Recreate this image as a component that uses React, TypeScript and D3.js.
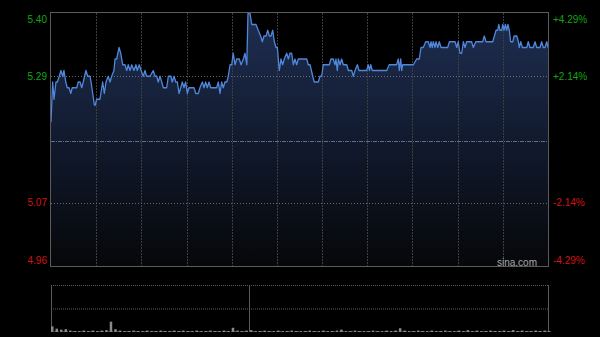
import React from "react";
import * as d3 from "d3";

// Intraday price points: [minute since open, price]
const seg1: [number, number][] = [
  [0, 5.21], [1.1, 5.28], [2.0, 5.25], [3.3, 5.28], [4.2, 5.28], [5.5, 5.29], [6.6, 5.3], [7.8, 5.29], [8.6, 5.3], [9.8, 5.28],
  [10.8, 5.27], [12.0, 5.27], [13.1, 5.26], [14.1, 5.27], [17.1, 5.27], [18.1, 5.28], [19.3, 5.28], [20.4, 5.27], [21.4, 5.28], [23.2, 5.3],
  [24.4, 5.29], [25.9, 5.29], [26.6, 5.28], [27.7, 5.26], [28.8, 5.24], [29.4, 5.24], [30.3, 5.25], [32.5, 5.25], [33.7, 5.27], [34.3, 5.28],
  [35.4, 5.26], [36.5, 5.28], [38.0, 5.29], [39.2, 5.28], [40.3, 5.29], [41.8, 5.3], [42.5, 5.32], [43.6, 5.32], [45.2, 5.34], [46.3, 5.33],
  [47.6, 5.31], [49.1, 5.31], [50.3, 5.3], [51.3, 5.31], [52.5, 5.3], [53.6, 5.31], [55.1, 5.3], [56.4, 5.31], [57.3, 5.3], [58.6, 5.31],
  [59.8, 5.3], [61.3, 5.29], [62.4, 5.3], [63.5, 5.29], [65.7, 5.29],
];
const seg2: [number, number][] = [
  [67.9, 5.3], [69.1, 5.29], [70.2, 5.29], [71.2, 5.28], [72.4, 5.29], [73.5, 5.28], [74.6, 5.27], [76.8, 5.27], [77.9, 5.29], [79.5, 5.29],
  [80.5, 5.28], [81.7, 5.29], [82.8, 5.28], [83.9, 5.28], [85.0, 5.26], [86.1, 5.27], [87.2, 5.28], [88.3, 5.27], [89.4, 5.28], [90.5, 5.26],
  [91.6, 5.27], [95.0, 5.27], [96.1, 5.26], [97.8, 5.26], [98.9, 5.27], [100.5, 5.28], [101.6, 5.27], [102.7, 5.28], [103.8, 5.27], [104.9, 5.28],
  [106.0, 5.27], [110.0, 5.27], [111.1, 5.28], [112.2, 5.26], [113.3, 5.28], [114.4, 5.27], [115.5, 5.28], [116.7, 5.28], [117.7, 5.29], [118.9, 5.31],
  [120.0, 5.31], [121.0, 5.33], [122.2, 5.31], [123.3, 5.32], [125.0, 5.32], [126.2, 5.31], [127.7, 5.32], [128.8, 5.33], [130.0, 5.31],
];
const seg3: [number, number][] = [
  [130.8, 5.4], [132.1, 5.4], [133.3, 5.38], [136.1, 5.38], [137.6, 5.37], [139.2, 5.36], [140.3, 5.35], [141.4, 5.36], [142.8, 5.36], [143.9, 5.37],
  [145.0, 5.36], [146.1, 5.36], [147.2, 5.37], [148.3, 5.35], [149.4, 5.34], [150.3, 5.34], [151.6, 5.3], [152.7, 5.32], [153.8, 5.31], [154.9, 5.32],
  [156.5, 5.33], [157.6, 5.32], [158.7, 5.33], [159.8, 5.33], [160.9, 5.31], [162.0, 5.32], [163.1, 5.31], [164.2, 5.32], [166.9, 5.32], [169.8, 5.32],
  [170.8, 5.31], [172.0, 5.31], [173.8, 5.29], [174.8, 5.28], [177.5, 5.28], [178.6, 5.29], [179.7, 5.29], [180.8, 5.31], [184.8, 5.31], [185.9, 5.32],
  [187.4, 5.32], [188.6, 5.31], [189.2, 5.32], [190.1, 5.3], [190.8, 5.32], [191.9, 5.31], [193.0, 5.32], [194.1, 5.31], [196.4, 5.31], [197.4, 5.3],
];
const seg4: [number, number][] = [
  [199.7, 5.3], [200.7, 5.29], [201.9, 5.3], [203.4, 5.31], [204.5, 5.3], [209.6, 5.3], [210.7, 5.31], [211.4, 5.3], [212.3, 5.31], [213.3, 5.3],
  [222.9, 5.3], [224.6, 5.31], [229.5, 5.31], [230.6, 5.32], [231.3, 5.3], [232.2, 5.32], [232.9, 5.3], [233.5, 5.31], [240.6, 5.31], [242.8, 5.32],
  [244.5, 5.32], [245.7, 5.34], [247.2, 5.34], [248.8, 5.35], [250.5, 5.35], [251.7, 5.34], [252.3, 5.35], [253.2, 5.34], [253.8, 5.35], [255.0, 5.34],
  [255.6, 5.35], [256.8, 5.34], [257.8, 5.35], [259.0, 5.34], [263.4, 5.34], [264.5, 5.35],
];
const seg5: [number, number][] = [
  [268.3, 5.35], [269.4, 5.34], [270.4, 5.35], [271.6, 5.33], [272.7, 5.33], [273.8, 5.35], [274.9, 5.34], [276.0, 5.35], [279.3, 5.35], [280.4, 5.34],
  [282.0, 5.35], [286.6, 5.35], [287.7, 5.36], [288.8, 5.35], [293.3, 5.35], [294.4, 5.36], [295.5, 5.37], [296.6, 5.37], [297.3, 5.38], [298.1, 5.37],
  [299.3, 5.37], [299.9, 5.38], [300.8, 5.37], [301.7, 5.38], [302.6, 5.37], [303.4, 5.38], [304.3, 5.37], [305.2, 5.35], [306.6, 5.35], [307.5, 5.36],
  [309.3, 5.36], [310.3, 5.35], [310.9, 5.34], [311.9, 5.35], [313.0, 5.34], [315.9, 5.34], [316.9, 5.35], [318.0, 5.34], [320.2, 5.34], [321.4, 5.35],
  [322.5, 5.34], [324.7, 5.34], [325.8, 5.35], [326.9, 5.34], [328.0, 5.34], [329.2, 5.35], [330.0, 5.34],
];

// Volume per 3-minute bucket (relative units)
const volumes: number[] = [
  12, 7, 5, 6, 3, 2, 2, 3, 2, 3, 2, 3, 4, 22, 6, 3, 2, 2, 3, 2,
  2, 3, 2, 2, 3, 2, 2, 3, 2, 3, 2, 2, 3, 2, 2, 3, 2, 2, 3, 2,
  9, 3, 2, 3, 4, 2, 2, 3, 2, 2, 3, 2, 2, 3, 2, 2, 2, 3, 2, 2,
  3, 2, 2, 3, 5, 2, 2, 3, 2, 2, 2, 3, 2, 2, 3, 2, 3, 8, 3, 2,
  2, 3, 2, 2, 3, 2, 2, 3, 2, 2, 3, 2, 4, 2, 3, 2, 2, 3, 2, 2,
  3, 2, 4, 2, 3, 2, 2, 3, 2, 3, 2,
];

const prevClose = 5.178;
const priceTicks = [5.4, 5.29, 5.07, 4.96];
const pctTicks = ["+4.29%", "+2.14%", "-2.14%", "-4.29%"];
const totalMinutes = 330;

export default function App() {
  const W = 600, H = 337;
  const left = 51, right = 548, top = 13, bottom = 266;
  const vTop = 285, vBottom = 332;

  const data = [...seg1, ...seg2, ...seg3, ...seg4, ...seg5];
  const x = d3.scaleLinear().domain([0, totalMinutes]).range([left, right]);
  const y = d3.scaleLinear().domain([4.96, 5.4]).range([bottom, top]);
  const vy = d3.scaleLinear().domain([0, 100]).range([vBottom, vTop]);

  const line = d3.line<[number, number]>().x((d) => x(d[0])).y((d) => y(d[1]));
  const area = d3
    .area<[number, number]>()
    .x((d) => x(d[0]))
    .y0(bottom)
    .y1((d) => y(d[1]));

  const gridMinutes = d3.range(30, totalMinutes, 30);
  const font = "'Liberation Sans', Arial, sans-serif";
  const green = "#13a613";
  const red = "#d41212";

  const labelY = (i: number, p: number) => (i === 0 ? y(p) + 6 : i === 3 ? y(p) - 6 : y(p));

  return (
    <div style={{ position: "fixed", left: 0, top: 0, width: W, height: H, background: "#000" }}>
      <svg width={W} height={H} style={{ display: "block", background: "#000" }}>
        <defs>
          <linearGradient id="fillGrad" gradientUnits="userSpaceOnUse" x1="0" y1={top} x2="0" y2={bottom}>
            <stop offset="0" stopColor="#1f2e52" />
            <stop offset="0.5" stopColor="#111a2e" />
            <stop offset="1" stopColor="#060709" />
          </linearGradient>
        </defs>

        <path d={area(data) || ""} fill="url(#fillGrad)" />

        {gridMinutes.map((m) => (
          <line key={m} x1={Math.round(x(m)) + 0.5} x2={Math.round(x(m)) + 0.5} y1={top} y2={bottom}
            stroke="#3e3e3e" strokeDasharray="2,1" strokeWidth={1} />
        ))}
        {[5.29, 5.07].map((p) => (
          <line key={p} x1={left} x2={right} y1={Math.round(y(p)) + 0.5} y2={Math.round(y(p)) + 0.5}
            stroke="#6a6a6a" strokeDasharray="1,2" strokeWidth={1} />
        ))}
        <line x1={left} x2={right} y1={Math.round(y(prevClose)) + 0.5} y2={Math.round(y(prevClose)) + 0.5}
          stroke="#7a8290" strokeDasharray="4,1,1,1" strokeWidth={1} opacity={0.8} />

        <path d={line(data) || ""} fill="none" stroke="#4f87dc" strokeWidth={1.3} strokeLinejoin="round" />

        <rect x={left - 0.5} y={top - 0.5} width={right - left + 1} height={bottom - top + 1}
          fill="none" stroke="#5a5a5a" strokeWidth={1} />

        <text x={537} y={262} textAnchor="end" dominantBaseline="central" fontFamily={font} fontSize={10} fill="#a8a8a8">
          sina.com
        </text>

        {priceTicks.map((p, i) => (
          <text key={p} x={47} y={labelY(i, p)} textAnchor="end" dominantBaseline="central"
            fontFamily={font} fontSize={10} fill={i < 2 ? green : red}>
            {p.toFixed(2)}
          </text>
        ))}
        {pctTicks.map((t, i) => (
          <text key={t} x={553} y={labelY(i, priceTicks[i])} textAnchor="start" dominantBaseline="central"
            fontFamily={font} fontSize={10} fill={i < 2 ? green : red}>
            {t}
          </text>
        ))}

        {/* volume panel */}
        <line x1={left} x2={right} y1={vTop + 0.5} y2={vTop + 0.5} stroke="#5a5a5a" strokeDasharray="1,1" />
        <line x1={left} x2={right} y1={(vTop + vBottom) / 2 + 0.5} y2={(vTop + vBottom) / 2 + 0.5}
          stroke="#5a5a5a" strokeDasharray="1,1" />
        <line x1={left + 0.5} x2={left + 0.5} y1={vTop} y2={vBottom} stroke="#5a5a5a" />
        <line x1={right + 0.5} x2={right + 0.5} y1={vTop} y2={vBottom} stroke="#5a5a5a" />
        <line x1={249.5} x2={249.5} y1={vTop} y2={vBottom} stroke="#5a5a5a" />
        <line x1={left} x2={right} y1={vBottom - 0.5} y2={vBottom - 0.5} stroke="#444" strokeDasharray="2,1" />
        {volumes.map((v, i) => (
          <rect key={i} x={x(i * 3)} y={vy(v)} width={2.5} height={vBottom - vy(v)} fill="#8a8a8a" />
        ))}
      </svg>
    </div>
  );
}
